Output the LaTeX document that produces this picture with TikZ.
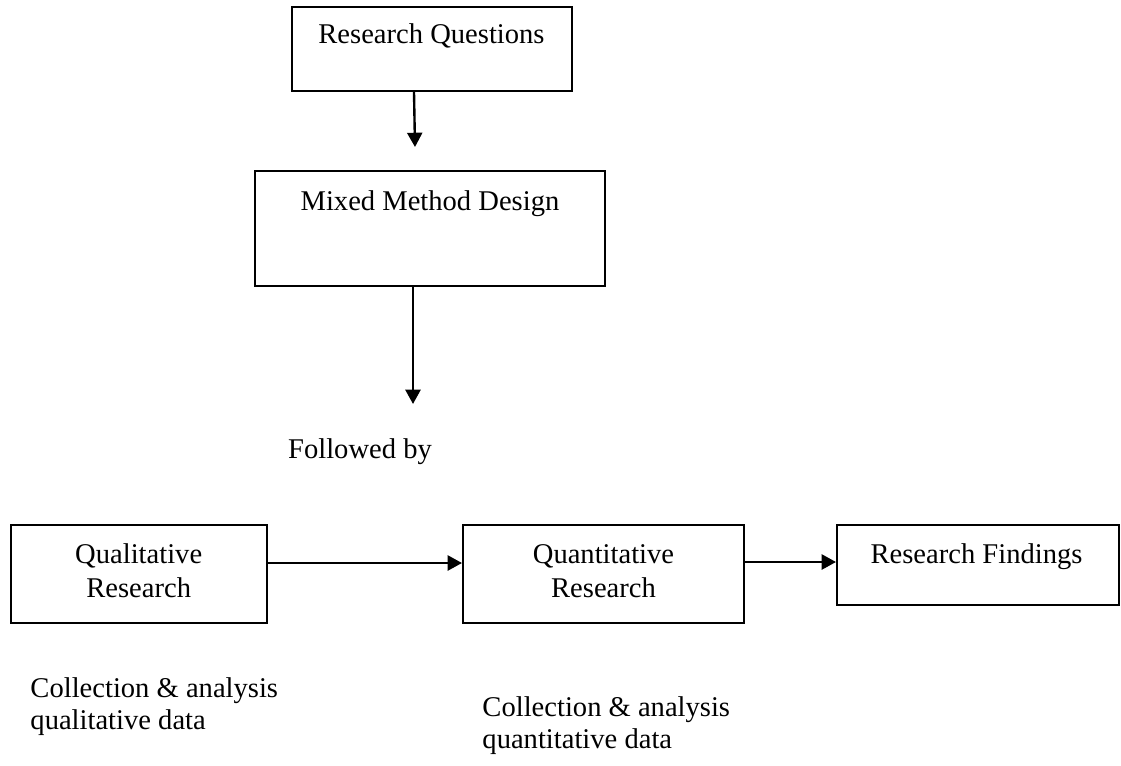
\documentclass[tikz,border=0pt]{standalone}
\usepackage{fontspec}
\setmainfont{Liberation Serif}
\usetikzlibrary{arrows.meta}
\newcommand{\topstrut}{\rule{0pt}{9pt}}
\begin{document}
\begin{tikzpicture}[x=0.42pt,y=-0.42pt,
  box/.style={draw=black,line width=0.85pt,rectangle,inner sep=0pt},
  txt/.style={font=\fontsize{12pt}{13.4pt}\selectfont,align=center,inner sep=0pt,anchor=base},
  twoline/.style={font=\fontsize{12pt}{14.3pt}\selectfont,align=center,inner sep=0pt,anchor=north},
  note/.style={font=\fontsize{12pt}{13.4pt}\selectfont,align=left,inner sep=0pt,anchor=north west},
  conn/.style={line width=1pt,-{Triangle[length=6pt,width=6.3pt]}}]
\useasboundingbox (0,0) rectangle (1121,765);
% boxes
\node[box,minimum width=280*0.42pt,minimum height=84*0.42pt] (rq) at (431.7,48.7) {};
\node[txt] (rqt) at (431.5,43.3) {Research Questions};
\node[box,minimum width=350*0.42pt,minimum height=115*0.42pt] (mmd) at (430,228.5) {};
\node[txt] (mmdt) at (430,210) {Mixed Method Design};
\coordinate (fb) at (413,404);
\node[txt] (fbt) at (360,458) {Followed by};
\node[box,minimum width=256*0.42pt,minimum height=98*0.42pt] (qual) at (138.7,574) {};
\node[twoline] (qualt) at (138.7,541.6) {\topstrut Qualitative\\Research};
\node[box,minimum width=281*0.42pt,minimum height=98*0.42pt] (quant) at (603.5,574) {};
\node[twoline] (quantt) at (603.5,541.6) {\topstrut Quantitative\\Research};
\node[box,minimum width=282*0.42pt,minimum height=80*0.42pt] (find) at (978,565) {};
\node[txt] (findt) at (976.5,563) {Research Findings};
% notes
\node[note] (n1) at (30,677) {Collection \& analysis\\qualitative data};
\node[note] (n2) at (482,696) {Collection \& analysis\\quantitative data};
% connectors
\coordinate (a1s) at (rq.south -| 414,0);
\coordinate (a1e) at (415,147);
\draw[conn] (a1s) -- (a1e);
\coordinate (a2s) at (mmd.south -| 413,0);
\draw[conn] (a2s) -- (fb);
\draw[conn] (qual.east |- 0,563) -- (quant.west |- 0,563);
\draw[conn] (quant.east |- 0,562) -- (find.west |- 0,562);
\end{tikzpicture}
\end{document}
